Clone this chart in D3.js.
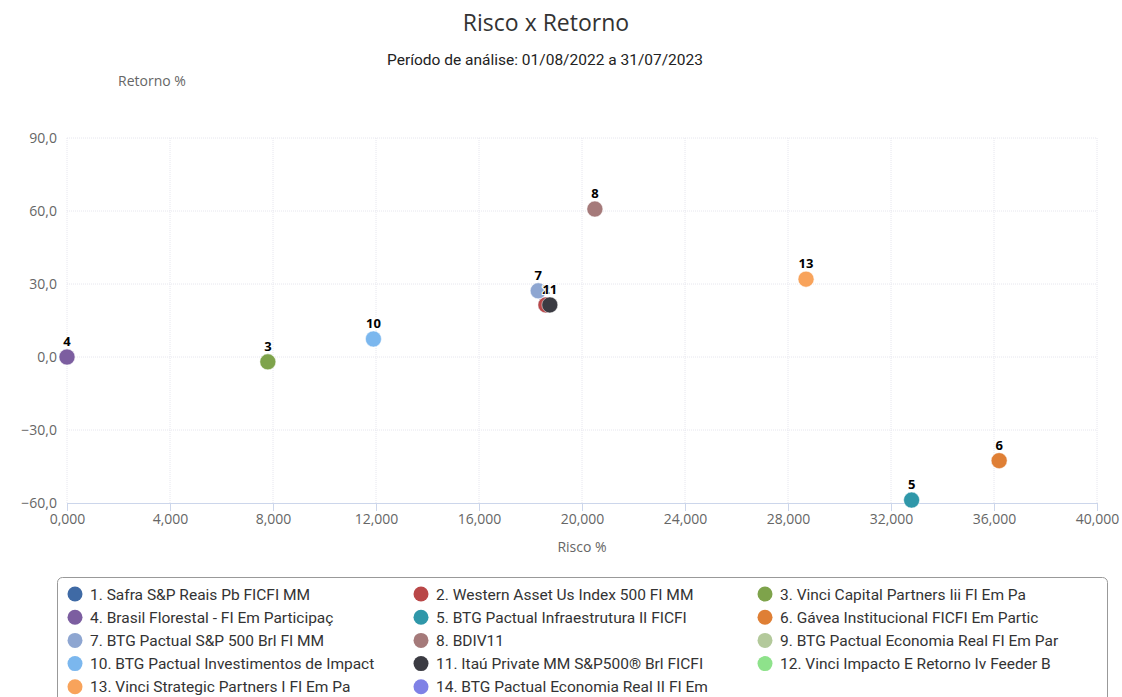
<!DOCTYPE html>
<html>
<head>
<meta charset="utf-8">
<script src="https://cdn.jsdelivr.net/npm/d3@7"></script>
<style>
  body { margin: 0; background: #fff; font-family: "Open Sans", "Noto Sans", sans-serif; }
</style>
</head>
<body>
<svg id="chart" width="1122" height="697"></svg>
<script>
// fund names (legend order)
const funds = [
  "1. Safra S&P Reais Pb FICFI MM",
  "2. Western Asset Us Index 500 FI MM",
  "3. Vinci Capital Partners Iii FI Em Pa",
  "4. Brasil Florestal - FI Em Participaç",
  "5. BTG Pactual Infraestrutura II FICFI",
  "6. Gávea Institucional FICFI Em Partic",
  "7. BTG Pactual S&P 500 Brl FI MM",
  "8. BDIV11",
  "9. BTG Pactual Economia Real FI Em Par",
  "10. BTG Pactual Investimentos de Impact",
  "11. Itaú Private MM S&P500® Brl FICFI",
  "12. Vinci Impacto E Retorno Iv Feeder B",
  "13. Vinci Strategic Partners I FI Em Pa",
  "14. BTG Pactual Economia Real II FI Em"
];
const colors = ["#3f6aa5", "#b94748", "#7ea34b", "#7c5ea0", "#2f97a9", "#df7f35", "#8ea6d1",
  "#a57a7a", "#b3c99b", "#7bb7ee", "#3b3b42", "#8ee28b", "#f8a35b", "#7f81e6"];

// risk (x) and return (y) per fund; null = no point shown
const risco   = [18.6, 18.6, 7.8, 0.0, 32.8, 36.2, 18.3, 20.5, null, 11.9, 18.75, null, 28.7, null];
const retorno = [21.4, 21.4, -2.0, 0.0, -58.8, -42.6, 27.2, 60.8, null, 7.4, 21.4, null, 32.0, null];

const xTicks = [0, 4, 8, 12, 16, 20, 24, 28, 32, 36, 40];
const yTicks = [-60, -30, 0, 30, 60, 90];

const svg = d3.select("#chart");
const pLeft = 67, pRight = 1097, pTop = 138, pBottom = 503;

const x = d3.scaleLinear().domain([0, 40]).range([pLeft, pRight]);
const y = d3.scaleLinear().domain([-60, 90]).range([pBottom, pTop]);

const fmtX = v => d3.format(",.3f")(v).replace(".", ",");
const fmtY = v => d3.format(".1f")(v).replace(".", ",");

// titles
svg.append("text").attr("x", 546).attr("y", 31).attr("text-anchor", "middle")
  .attr("font-size", 23).attr("fill", "#333").text("Risco x Retorno");
svg.append("text").attr("x", 545).attr("y", 65).attr("text-anchor", "middle")
  .attr("font-size", 15.5).attr("font-weight", 400).attr("fill", "#222").attr("font-family", "Roboto")
  .text("Período de análise: 01/08/2022 a 31/07/2023");
svg.append("text").attr("x", 152).attr("y", 86).attr("text-anchor", "middle")
  .attr("font-size", 14).attr("fill", "#666").text("Retorno %");
svg.append("text").attr("x", 582).attr("y", 552).attr("text-anchor", "middle")
  .attr("font-size", 14).attr("fill", "#666").text("Risco %");

// grid
svg.append("g").selectAll("line").data(yTicks.filter(d => d !== -60)).join("line")
  .attr("x1", pLeft).attr("x2", pRight).attr("y1", d => y(d)).attr("y2", d => y(d))
  .attr("stroke", "#e6e6ee").attr("stroke-dasharray", "1,1");
svg.append("g").selectAll("line").data(xTicks).join("line")
  .attr("x1", d => x(d)).attr("x2", d => x(d)).attr("y1", pTop).attr("y2", pBottom)
  .attr("stroke", "#e6e6ee").attr("stroke-dasharray", "1,1");

// axes
const xAxis = svg.append("g").attr("transform", `translate(0,${pBottom})`)
  .call(d3.axisBottom(x).tickValues(xTicks).tickFormat(fmtX).tickSize(8).tickPadding(3));
xAxis.select(".domain").attr("stroke", "#ccd6eb");
xAxis.selectAll(".tick line").attr("stroke", "#ccd6eb");
xAxis.selectAll("text").attr("font-size", 14).attr("fill", "#666").attr("font-family", "Open Sans");

const yAxis = svg.append("g").attr("transform", `translate(${pLeft - 6},0)`)
  .call(d3.axisLeft(y).tickValues(yTicks).tickFormat(fmtY).tickSize(0).tickPadding(4));
yAxis.select(".domain").remove();
yAxis.selectAll("text").attr("font-size", 14).attr("fill", "#666").attr("font-family", "Open Sans");

// points
const pts = funds.map((f, i) => ({ id: i + 1, x: risco[i], y: retorno[i], c: colors[i] }))
  .filter(d => d.x !== null);

svg.append("g").selectAll("circle").data(pts).join("circle")
  .attr("cx", d => x(d.x)).attr("cy", d => y(d.y)).attr("r", 8)
  .attr("fill", d => d.c).attr("stroke", "#fff").attr("stroke-width", 0.5);

svg.append("g").selectAll("text").data(pts).join("text")
  .attr("x", d => x(d.x)).attr("y", d => y(d.y) - 11)
  .attr("text-anchor", "middle").attr("font-size", 13).attr("font-weight", 700)
  .attr("fill", "#000").attr("stroke", "#fff").attr("stroke-width", 2).attr("paint-order", "stroke")
  .text(d => d.id);

// legend
svg.append("rect").attr("x", 57.5).attr("y", 577.5).attr("width", 1050).attr("height", 130)
  .attr("rx", 5).attr("fill", "#fff").attr("stroke", "#999");

const colX = [75, 421, 765];
const lg = svg.append("g").selectAll("g").data(funds).join("g")
  .attr("transform", (d, i) => `translate(${colX[i % 3]},${594 + Math.floor(i / 3) * 23.2})`);
lg.append("circle").attr("r", 7.5).attr("fill", (d, i) => colors[i]);
lg.append("text").attr("x", 15).attr("y", 5.5).attr("font-size", 15.5).attr("fill", "#333")
  .attr("font-family", "Roboto").text(d => d);
</script>
</body>
</html>
